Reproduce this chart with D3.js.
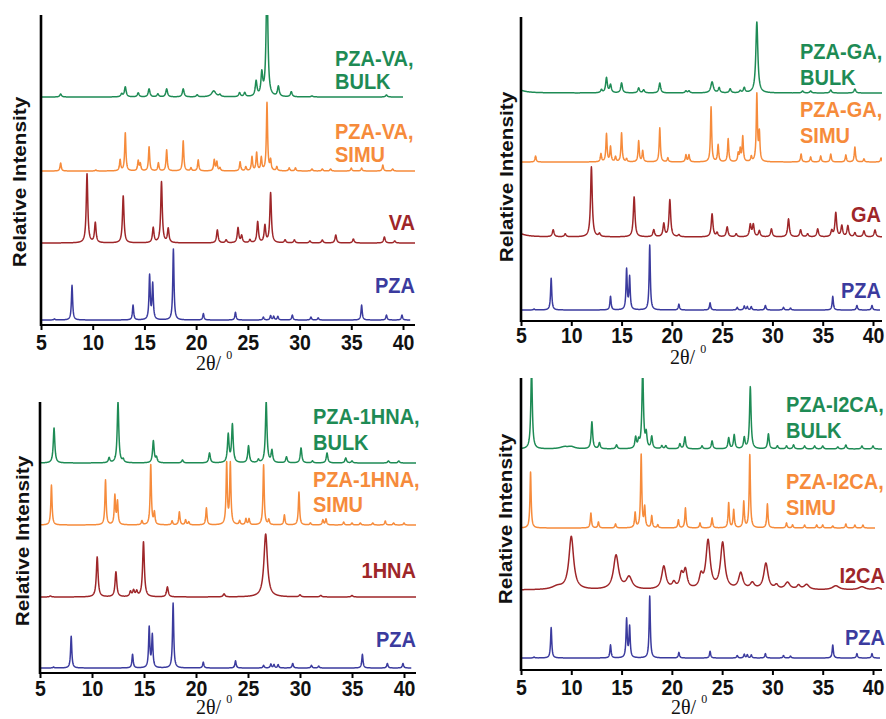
<!DOCTYPE html>
<html>
<head>
<meta charset="utf-8">
<title>PXRD patterns</title>
<script src="https://cdn.jsdelivr.net/npm/d3@7"></script>
<style>
  body { margin: 0; background: #fff; }
  svg text { font-family: "Liberation Sans", Arial, sans-serif; font-weight: bold; }
  svg text.serif { font-family: "Liberation Serif", "Times New Roman", serif; font-weight: normal; }
</style>
</head>
<body>
<div id="chart"></div>
<script>
var thetaTicks = [5, 10, 15, 20, 25, 30, 35, 40];

// peak lists: [2theta, intensity (a.u.), half width (optional)]
var pzaPeaks = [[6.3,1.5],[8.0,49],[13.9,21],[15.5,62],[15.8,50],[17.8,100],[20.7,9],[23.8,11],[26.5,4],[27.2,6],[27.5,5],[27.9,5],[29.3,7],[31.1,4],[31.8,3],[36.0,21],[38.4,7],[39.9,7]];

var vaPeaks = [[9.45,69],[10.25,20],[12.95,47],[15.85,15],[16.65,61],[17.3,14],[22.05,13],[22.9,3],[24.05,15],[24.4,7],[25.2,3],[25.95,21],[26.65,17],[27.2,50],[28.6,3],[29.5,3],[31.0,2],[32.2,3],[33.5,8],[35.2,4],[38.2,6],[39.2,2]];
var vaSimuPeaks = [[6.9,8],[10.3,1],[12.65,11],[13.15,38],[14.4,10],[14.6,7],[15.45,24],[16.35,8],[17.15,21],[18.75,30],[19.5,3],[20.2,11],[21.75,11],[22.0,9],[22.3,3],[24.25,9],[24.8,4],[25.4,14],[25.85,18],[26.3,13],[26.85,68],[27.2,10],[27.8,4],[29.0,3],[29.6,3],[31.2,2],[32.2,2],[33.0,2],[35.0,3],[36.0,3],[38.05,6],[39.0,2]];
var vaBulkPeaks = [[6.9,3],[12.8,3],[13.15,10],[14.4,4],[15.45,8],[16.3,3],[17.15,8],[18.75,8],[20.1,2],[21.7,6,0.25],[22.3,2],[24.2,4],[24.7,4],[25.8,15],[26.35,22],[26.85,120],[27.95,10],[29.2,5],[31.2,1],[38.4,2]];

var gaPeaks = [[4.3,6,0.8],[8.2,7],[9.4,3],[12.0,70],[12.8,3],[16.25,40],[18.2,7],[19.2,13],[19.8,37],[20.7,2],[24.0,23],[24.5,4],[25.5,10],[26.4,3],[27.8,12],[28.1,12],[28.7,6],[29.9,8],[31.6,18],[32.8,7],[33.5,3],[34.5,8],[35.9,6],[36.3,24],[36.9,11],[37.5,11],[38.2,4],[39.1,6],[40.2,7]];
var gaSimuPeaks = [[6.45,6],[12.95,8],[13.5,28],[13.9,15],[14.4,5],[15.0,29],[15.5,3],[16.7,21],[17.1,11],[18.8,34],[19.6,4],[21.4,7],[21.7,7],[23.9,55],[24.6,17],[25.6,23],[26.6,8],[26.8,12],[27.05,25],[27.9,5],[28.45,67],[28.7,28],[32.85,8],[33.8,5],[34.8,6],[35.8,8],[37.3,7],[38.2,15],[39.1,3],[40.8,4]];
var gaBulkPeaks = [[4.3,5,0.8],[13.0,3],[13.5,15],[13.9,8],[15.0,10],[16.7,5],[17.2,3],[18.8,10],[21.4,2],[21.7,2],[24.0,11,0.15],[24.7,5],[25.8,4],[26.8,2],[27.2,5],[28.45,71,0.12],[33.0,2],[33.8,2],[35.8,3],[38.2,4]];

var hnaPeaks = [[6.0,1],[10.5,40],[12.3,25],[13.7,5],[14.0,6],[14.3,5],[14.95,55],[17.25,10],[22.7,3],[26.7,63,0.2],[30.0,2],[32.0,1.5],[35.0,1.5]];
var hnaSimuPeaks = [[6.1,40],[11.3,45],[12.2,29],[12.45,23],[14.8,4],[15.65,60],[16.0,12],[17.7,4],[18.4,13],[19.0,5],[19.3,3],[21.0,17],[22.95,61],[23.3,61],[24.2,4],[24.8,6],[25.1,6],[26.5,60],[27.0,5],[28.5,10],[29.9,33],[31.0,2],[32.2,5],[32.5,6],[34.2,3],[35.0,2],[35.8,2],[37.0,2],[38.2,4],[39.0,2],[40.0,2]];
var hnaBulkPeaks = [[6.35,35],[11.65,5],[12.5,61],[13.0,3],[15.9,22],[16.2,5],[18.7,3],[21.3,10],[23.1,28],[23.5,38],[25.05,17],[26.0,3],[26.75,61],[27.3,12],[28.7,6],[30.1,15],[31.2,2],[32.6,10],[34.4,5],[35.0,2],[38.5,2],[39.5,2]];

var i2caPeaks = [[8.6,3,0.6],[10.0,53,0.28],[14.45,34,0.3],[15.75,12,0.35],[19.2,23,0.25],[20.2,6,0.2],[20.95,14,0.2],[21.35,18,0.2],[22.9,12,0.2],[23.6,48,0.25],[25.05,46,0.25],[26.85,16,0.25],[28.0,6,0.25],[29.35,26,0.25],[30.4,4,0.2],[31.5,7,0.3],[32.6,4,0.2],[33.4,5,0.3],[36.3,4,0.4],[38.9,3,0.4],[40.5,2,0.3]];
var i2caSimuPeaks = [[5.95,56],[11.95,15],[12.7,6],[14.4,4],[16.35,15],[16.95,73],[17.3,20],[18.0,12],[18.6,3],[20.65,8],[21.35,20],[22.8,5],[24.0,10],[25.65,25],[26.15,18],[27.15,26],[27.75,73],[29.5,24],[31.4,5],[32.0,3],[33.2,3],[34.4,3],[35.0,3],[36.0,2],[37.3,4],[38.2,3],[39.0,3]];
var i2caBulkPeaks = [[6.05,80],[9.3,2,0.5],[10.0,2,0.4],[12.05,27],[12.8,6],[14.5,4],[16.4,11],[16.7,7],[17.1,80],[17.45,14],[18.0,12],[19.0,3],[19.4,3],[20.8,5],[21.3,12],[23.0,3],[24.0,8],[25.65,11],[26.2,14],[27.2,11],[27.8,62],[29.6,15],[30.5,3],[31.4,3],[32.1,4],[33.2,3],[34.2,3],[35.0,3],[36.5,2],[37.3,4],[38.9,3],[40.0,3]];

var green = "#1e8b55", orange = "#f68b3b", red = "#9e2629", blue = "#3b3b9e";

var panels = [
  { x5: 41, x40: 403, xEnd: 415, top: 15, bottom: 325, tickDy: 25, tx: 196, ty: 370, yx: 20, yy: 182,
    traces: [
      { peaks: pzaPeaks, scale: 0.71, base: 5, end: 40.7, hw: 0.07, color: blue },
      { peaks: vaPeaks, scale: 1, base: 82, end: 41.2, hw: 0.09, color: red },
      { peaks: vaSimuPeaks, scale: 1, base: 154, end: 41.2, hw: 0.07, color: orange },
      { peaks: vaBulkPeaks, scale: 1, base: 228, end: 40.0, hw: 0.1, color: green }
    ],
    labels: [
      { t: "PZA", x: 415, y: 293, a: "end", c: blue },
      { t: "VA", x: 415, y: 230, a: "end", c: red },
      { t: "PZA-VA,", x: 335, y: 139, a: "start", c: orange },
      { t: "SIMU", x: 335, y: 162, a: "start", c: orange },
      { t: "PZA-VA,", x: 335, y: 66, a: "start", c: green },
      { t: "BULK", x: 335, y: 89, a: "start", c: green }
    ] },
  { x5: 521, x40: 873, xEnd: 882, top: 17, bottom: 321, tickDy: 22, tx: 670, ty: 364, yx: 507, yy: 177,
    traces: [
      { peaks: pzaPeaks, scale: 0.65, base: 11, end: 40.7, hw: 0.07, color: blue },
      { peaks: gaPeaks, scale: 1, base: 84, end: 41, hw: 0.1, color: red },
      { peaks: gaSimuPeaks, scale: 1, base: 159, end: 41, hw: 0.07, color: orange },
      { peaks: gaBulkPeaks, scale: 1, base: 228, end: 41, hw: 0.1, color: green }
    ],
    labels: [
      { t: "PZA", x: 881, y: 298, a: "end", c: blue },
      { t: "GA", x: 881, y: 222, a: "end", c: red },
      { t: "PZA-GA,", x: 800, y: 117, a: "start", c: orange },
      { t: "SIMU", x: 800, y: 143, a: "start", c: orange },
      { t: "PZA-GA,", x: 800, y: 59, a: "start", c: green },
      { t: "BULK", x: 800, y: 85, a: "start", c: green }
    ] },
  { x5: 40, x40: 404, xEnd: 416, top: 402, bottom: 673, tickDy: 23, tx: 196, ty: 714, yx: 23, yy: 541,
    traces: [
      { peaks: pzaPeaks, scale: 0.65, base: 5, end: 40.7, hw: 0.07, color: blue },
      { peaks: hnaPeaks, scale: 1, base: 76, end: 41.2, hw: 0.1, color: red },
      { peaks: hnaSimuPeaks, scale: 1, base: 148, end: 41.2, hw: 0.07, color: orange },
      { peaks: hnaBulkPeaks, scale: 1, base: 210, end: 41.2, hw: 0.09, color: green }
    ],
    labels: [
      { t: "PZA", x: 416, y: 647, a: "end", c: blue },
      { t: "1HNA", x: 416, y: 578, a: "end", c: red },
      { t: "PZA-1HNA,", x: 313, y: 487, a: "start", c: orange },
      { t: "SIMU", x: 313, y: 512, a: "start", c: orange },
      { t: "PZA-1HNA,", x: 313, y: 424, a: "start", c: green },
      { t: "BULK", x: 313, y: 450, a: "start", c: green }
    ] },
  { x5: 521, x40: 873, xEnd: 882, top: 378, bottom: 670, tickDy: 25, tx: 671, ty: 714, yx: 506, yy: 519,
    traces: [
      { peaks: pzaPeaks, scale: 0.62, base: 12, end: 40.7, hw: 0.07, color: blue },
      { peaks: i2caPeaks, scale: 1, base: 80, end: 41, hw: 0.25, color: red },
      { peaks: i2caSimuPeaks, scale: 1, base: 142, end: 40.2, hw: 0.07, color: orange },
      { peaks: i2caBulkPeaks, scale: 1, base: 221, end: 41, hw: 0.09, color: green }
    ],
    labels: [
      { t: "PZA", x: 885, y: 645, a: "end", c: blue },
      { t: "I2CA", x: 885, y: 583, a: "end", c: red },
      { t: "PZA-I2CA,", x: 786, y: 489, a: "start", c: orange },
      { t: "SIMU", x: 786, y: 515, a: "start", c: orange },
      { t: "PZA-I2CA,", x: 786, y: 412, a: "start", c: green },
      { t: "BULK", x: 786, y: 438, a: "start", c: green }
    ] }
];

var W = 886, H = 719;
var svg = d3.select("#chart").append("svg").attr("width", W).attr("height", H);

// sum of peak profiles, sampled along 2theta
function profile(t) {
  var xs = d3.range(5, t.end, 0.02)
    .concat(t.peaks.map(function (p) { return p[0]; }).filter(function (x) { return x > 5 && x < t.end; }));
  xs.push(t.end);
  xs.sort(d3.ascending);
  return xs.map(function (x) {
    var v = d3.sum(t.peaks, function (p) {
      var d = (x - p[0]) / (p[2] || t.hw);
      return p[1] * t.scale / (1 + d * d);
    });
    return [x, t.base + v];
  });
}

panels.forEach(function (p, i) {
  var x = d3.scaleLinear().domain([5, 40]).range([p.x5, p.x40]);
  var y = d3.scaleLinear().domain([0, p.bottom - p.top]).range([p.bottom, p.top]);
  var g = svg.append("g");

  g.append("clipPath").attr("id", "clip" + i)
    .append("rect").attr("x", p.x5).attr("y", p.top)
    .attr("width", p.xEnd - p.x5).attr("height", p.bottom - p.top);

  var line = d3.line().x(function (d) { return x(d[0]); }).y(function (d) { return y(d[1]); });

  g.append("g").attr("clip-path", "url(#clip" + i + ")")
    .selectAll("path").data(p.traces).enter().append("path")
    .attr("d", function (t) { return line(profile(t)); })
    .attr("fill", "none")
    .attr("stroke", function (t) { return t.color; })
    .attr("stroke-width", 1.5)
    .attr("stroke-linejoin", "round");

  // x axis
  var ax = g.append("g").attr("transform", "translate(0," + p.bottom + ")")
    .call(d3.axisBottom(x).tickValues(thetaTicks).tickSize(5).tickSizeOuter(0));
  ax.select(".domain").attr("d", "M" + p.x5 + ",0H" + p.xEnd).attr("stroke", "#000").attr("stroke-width", 2.2);
  ax.selectAll(".tick line").attr("stroke", "#000").attr("stroke-width", 2);
  ax.selectAll(".tick text")
    .attr("y", 0).attr("dy", 0)
    .attr("transform", "translate(0," + p.tickDy + ") scale(1,1.12)")
    .attr("font-size", 19.5).attr("font-family", null).attr("fill", "#111");

  // y axis (no ticks)
  g.append("line").attr("x1", p.x5).attr("x2", p.x5).attr("y1", p.top).attr("y2", p.bottom + 1)
    .attr("stroke", "#000").attr("stroke-width", 2.6);

  g.append("text")
    .attr("transform", "translate(" + p.yx + "," + p.yy + ") rotate(-90) scale(1.12,1)")
    .attr("text-anchor", "middle").attr("dy", "0.35em")
    .attr("font-size", 18.5).attr("fill", "#111")
    .text("Relative Intensity");

  var tt = g.append("text").attr("class", "serif")
    .attr("transform", "translate(" + p.tx + "," + p.ty + ")")
    .attr("font-size", 20).attr("fill", "#111");
  tt.append("tspan").text("2\u03b8/ ");
  tt.append("tspan").attr("font-size", 12).attr("dy", -11).text("0");

  g.selectAll("text.lab").data(p.labels).enter().append("text").attr("class", "lab")
    .attr("transform", function (d) { return "translate(" + d.x + "," + d.y + ") scale(1,1.1)"; })
    .attr("text-anchor", function (d) { return d.a; })
    .attr("font-size", 20)
    .attr("fill", function (d) { return d.c; })
    .text(function (d) { return d.t; });
});
</script>
</body>
</html>
